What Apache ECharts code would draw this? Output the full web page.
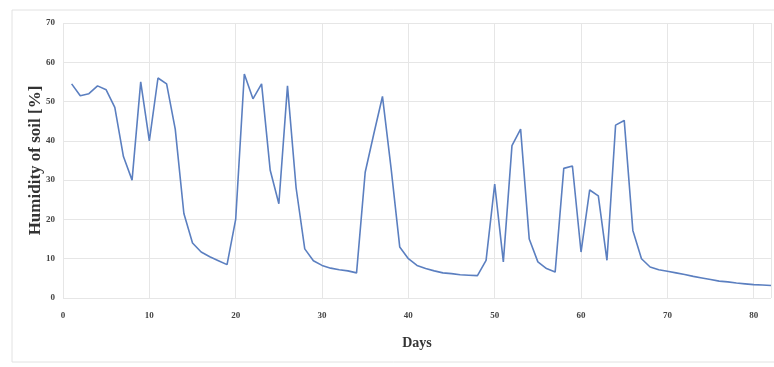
<!DOCTYPE html>
<html><head><meta charset="utf-8">
<script src="https://cdn.jsdelivr.net/npm/echarts@6/dist/echarts.min.js"></script>
<style>html,body{margin:0;padding:0;background:#fff}#c{width:774px;height:367px}</style>
</head><body><div id="c"></div>
<script>
const days = [];
for (let d = 1; d <= 82; d++) days.push(d);
const humidity = [
 54.5,51.5,52,54,53,48.5,36,30,55,40,
 56,54.5,43,21.5,14,11.7,10.5,9.5,8.5,20,
 57,50.7,54.5,32.5,24,54,28,12.5,9.5,8.3,
 7.6,7.2,6.9,6.4,32,41.8,51.3,33,13,10,
 8.3,7.5,6.9,6.4,6.2,5.9,5.8,5.7,9.6,29,
 9.2,38.8,43,15,9.2,7.5,6.6,33,33.6,11.7,
 27.5,26,9.6,44,45.2,17.2,10,7.9,7.2,6.8,
 6.4,6,5.5,5.1,4.7,4.3,4.1,3.8,3.6,3.4,
 3.3,3.2
];
const xTicks = [0,10,20,30,40,50,60,70,80];
const yTicks = [0,10,20,30,40,50,60,70];

const chart = echarts.init(document.getElementById('c'), null, {renderer:'canvas'});
const lab = {fontFamily:'"Liberation Serif", "DejaVu Serif", serif', fontWeight:'bold', fontSize:9, color:'#444'};
chart.setOption({
  animation:false,
  graphic:[{type:'rect', shape:{x:12,y:10,width:770,height:352}, style:{fill:'none', stroke:'#e2e2e2', lineWidth:1}, z:-1}],
  grid:{left:63, right:2, top:23, bottom:69},
  xAxis:{type:'value', min:0, max:82, interval:10,
    name:'Days', nameLocation:'middle', nameGap:38,
    nameTextStyle:{fontFamily:'"Liberation Serif", serif', fontWeight:'bold', fontSize:14, color:'#333'},
    axisLine:{show:false}, axisTick:{show:false},
    axisLabel:Object.assign({margin:13, formatter:v=>xTicks.includes(v)?String(v):''}, lab),
    splitLine:{show:true, lineStyle:{color:'#e6e6e6', width:1}}},
  yAxis:{type:'value', min:0, max:70, interval:10,
    name:'Humidity of soil [%]', nameLocation:'middle', nameGap:19, nameMoveOverlap:false,
    nameTextStyle:{fontFamily:'"Liberation Serif", serif', fontWeight:'bold', fontSize:17, color:'#333'},
    axisLine:{show:false}, axisTick:{show:false},
    axisLabel:Object.assign({margin:8, formatter:v=>yTicks.includes(v)?String(v):''}, lab),
    splitLine:{show:true, lineStyle:{color:'#e6e6e6', width:1}}},
  series:[{type:'line', data:days.map((d,i)=>[d, humidity[i]]), showSymbol:false,
    lineStyle:{color:'#5b7fc0', width:1.6}}]
});
</script></body></html>
